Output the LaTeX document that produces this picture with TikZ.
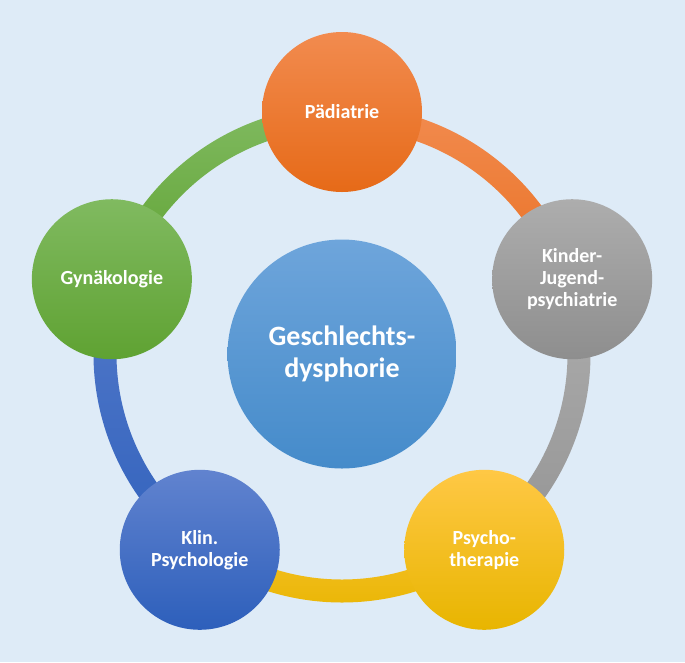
\documentclass[tikz,border=0pt]{standalone}
\usepackage{fontspec}
\setmainfont{Carlito}
\usepackage{tikz}
\usetikzlibrary{calc}
\definecolor{bg}{HTML}{DEEBF7}
\definecolor{orngT}{HTML}{F28B4F}
\definecolor{orngB}{HTML}{E66A18}
\definecolor{grayT}{HTML}{ADADAD}
\definecolor{grayB}{HTML}{8E8E8E}
\definecolor{yellT}{HTML}{FFC845}
\definecolor{yellB}{HTML}{E8B500}
\definecolor{blueT}{HTML}{6183CF}
\definecolor{blueB}{HTML}{2D5FBB}
\definecolor{grenT}{HTML}{80BA60}
\definecolor{grenB}{HTML}{5FA232}
\definecolor{skyT}{HTML}{6EA5DB}
\definecolor{skyB}{HTML}{458BCA}

\begin{document}
\begin{tikzpicture}[x=0.75pt,y=0.75pt,
    ball/.style={circle, minimum size=120pt, inner sep=0pt, align=center, text=white,
                 font=\bfseries\fontsize{15}{16.5}\selectfont}]
            \fill [bg, use as bounding box] (0,0) rectangle (685,-662);
            \coordinate (O) at (342,-354);
            \coordinate (a1) at ($(O)+(90:248.5)$);
            \coordinate (a2) at ($(O)+(18:248.5)$);
            \coordinate (a3) at ($(O)+(-54:248.5)$);
            \coordinate (a4) at ($(O)+(-126:248.5)$);
            \coordinate (a5) at ($(O)+(162:248.5)$);
            \shade [top color=orngT, bottom color=orngB!80!orngT] (a1) arc [start angle=90, end angle=18, radius=248.5]
                -- ($(O)+(18:225.5)$) arc [start angle=18, end angle=90, radius=225.5] -- cycle;
            \shade [top color=grayT, bottom color=grayB!80!grayT] (a2) arc [start angle=18, end angle=-54, radius=248.5]
                -- ($(O)+(-54:225.5)$) arc [start angle=-54, end angle=18, radius=225.5] -- cycle;
            \shade [top color=yellT!60!yellB, bottom color=yellB] (a3) arc [start angle=-54, end angle=-126, radius=248.5]
                -- ($(O)+(-126:225.5)$) arc [start angle=-126, end angle=-54, radius=225.5] -- cycle;
            \shade [top color=blueT!70!blueB, bottom color=blueB!90!blueT] (a4) arc [start angle=-126, end angle=-198, radius=248.5]
                -- ($(O)+(162:225.5)$) arc [start angle=-198, end angle=-126, radius=225.5] -- cycle;
            \shade [top color=grenT, bottom color=grenB] (a5) arc [start angle=162, end angle=90, radius=248.5]
                -- ($(O)+(90:225.5)$) arc [start angle=90, end angle=162, radius=225.5] -- cycle;
            \node [ball, shade, top color=orngT, bottom color=orngB] (P) at ($(O)+(90:242)$) {Pädiatrie};
            \node [ball, shade, top color=grayT, bottom color=grayB] (K) at ($(O)+(18:242)$) {Kinder-\\Jugend-\\psychiatrie};
            \node [ball, shade, top color=yellT, bottom color=yellB] (T) at ($(O)+(-54:242)$) {Psycho-\\therapie};
            \node [ball, shade, top color=blueT, bottom color=blueB] (L) at ($(O)+(-126:242)$) {Klin.\\Psychologie};
            \node [ball, shade, top color=grenT, bottom color=grenB] (G) at ($(O)+(162:242)$) {Gynäkologie};
            \node [ball, minimum size=171.75pt, shade, top color=skyT, bottom color=skyB,
                   font=\bfseries\fontsize{21}{24}\selectfont] (M) at (O) {Geschlechts-\\dysphorie};
        \end{tikzpicture}
\end{document}
